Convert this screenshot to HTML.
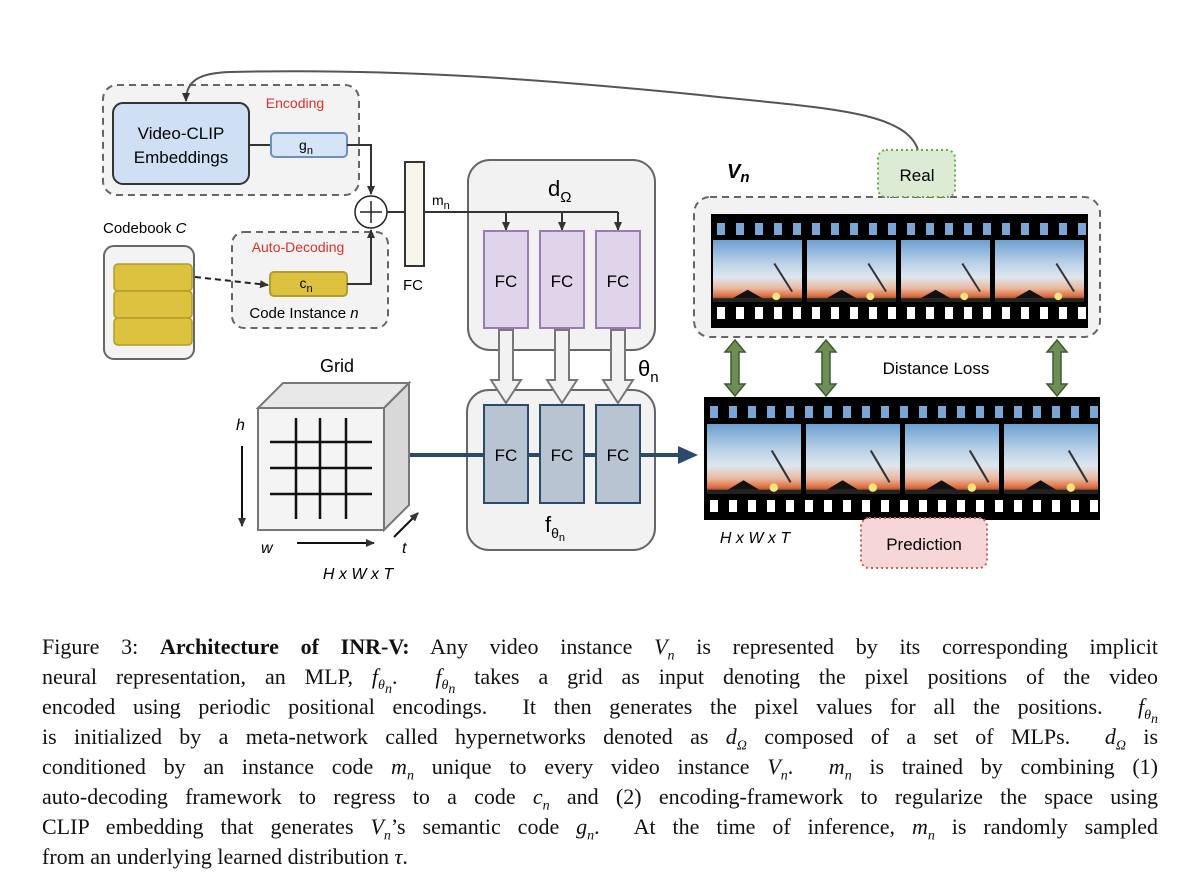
<!DOCTYPE html>
<html><head><meta charset="utf-8"><style>
body{margin:0;width:1200px;height:896px;background:#fff;overflow:hidden;position:relative}
svg{position:absolute;left:0;top:0}
.cap{position:absolute;left:42px;width:1116px;font-family:"Liberation Serif",serif;font-size:22px;line-height:30px;color:#111}
.cap div{text-align:justify;text-align-last:justify;white-space:nowrap;height:30px}
.cap div.last{text-align-last:left}
i sub{font-size:14px;line-height:0}
</style></head><body>
<svg width="1200" height="896" viewBox="0 0 1200 896" font-family="Liberation Sans, sans-serif">
<defs>
<marker id="ah" markerWidth="10" markerHeight="10" refX="8" refY="5" orient="auto" markerUnits="userSpaceOnUse"><path d="M0,1 L9,5 L0,9 z" fill="#333"/></marker>
<marker id="ahb" markerWidth="22" markerHeight="22" refX="2" refY="11" orient="auto" markerUnits="userSpaceOnUse"><path d="M0,2 L20,11 L0,20 z" fill="#2c4a6b"/></marker>
<linearGradient id="sky" x1="0" y1="0" x2="0" y2="1">
<stop offset="0" stop-color="#6d9fd0"/><stop offset="0.35" stop-color="#b6cfe6"/><stop offset="0.6" stop-color="#dfe6ee"/><stop offset="0.78" stop-color="#e9b9a0"/><stop offset="0.9" stop-color="#e07040"/><stop offset="1" stop-color="#3b2a2a"/></linearGradient>
<pattern id="hT1" x="711" y="214" width="19" height="28" patternUnits="userSpaceOnUse"><rect x="6" y="9" width="8" height="12" fill="#7aa6d6"/></pattern>
<pattern id="hB1" x="711" y="302" width="19" height="26" patternUnits="userSpaceOnUse"><rect x="6" y="5" width="8" height="12" fill="#fff"/></pattern>
<pattern id="hT2" x="704" y="397" width="19" height="28" patternUnits="userSpaceOnUse"><rect x="6" y="9" width="8" height="12" fill="#7aa6d6"/></pattern>
<pattern id="hB2" x="704" y="494" width="19" height="26" patternUnits="userSpaceOnUse"><rect x="6" y="6" width="8" height="12" fill="#fff"/></pattern>
<symbol id="frame" viewBox="0 0 90 66" width="90" height="66" preserveAspectRatio="none">
<rect width="90" height="66" fill="url(#sky)"/>
<path d="M20,62 L35,53 L50,62 z" fill="#111"/>
<rect x="0" y="62" width="90" height="4" fill="#222"/>
<circle cx="64" cy="60" r="4" fill="#ffe27a"/>
<path d="M62,25 L80,55" stroke="#333" stroke-width="2" fill="none"/>
</symbol>
</defs>

<rect x="103" y="85" width="256" height="110" rx="14" fill="#f3f3f3" stroke="#666" stroke-width="2" stroke-dasharray="7,5"/>
<text x="295" y="108" font-size="14" fill="#e03030" text-anchor="middle">Encoding</text>
<rect x="113" y="103" width="136" height="81" rx="10" fill="#cfe0f5" stroke="#333" stroke-width="2"/>
<text x="181" y="139" font-size="17" text-anchor="middle">Video-CLIP</text>
<text x="181" y="163" font-size="17" text-anchor="middle">Embeddings</text>
<line x1="249" y1="145" x2="271" y2="145" stroke="#333" stroke-width="2"/>
<rect x="271" y="133" width="76" height="24" rx="4" fill="#d5e4f6" stroke="#6d8fc0" stroke-width="2"/>
<text x="306" y="150" font-size="14" text-anchor="middle">g<tspan font-size="11" dy="4">n</tspan></text>
<path d="M347,145 L371,145 L371,194" fill="none" stroke="#333" stroke-width="2" marker-end="url(#ah)"/>

<path d="M918,150 C905,110 820,108 700,95 C550,80 400,68 230,72 C200,73 186,80 186,101" fill="none" stroke="#555" stroke-width="2" marker-end="url(#ah)"/>

<circle cx="371" cy="212" r="16" fill="#fff" stroke="#222" stroke-width="1.5"/>
<path d="M360,212 H382 M371,201 V223" stroke="#222" stroke-width="1.5"/>

<text x="103" y="233" font-size="15">Codebook <tspan font-style="italic">C</tspan></text>
<rect x="104" y="246" width="90" height="113" rx="10" fill="#f3f3f3" stroke="#666" stroke-width="2"/>
<rect x="114" y="264" width="78" height="27" rx="4" fill="#dcc23f" stroke="#b39c28" stroke-width="1.5"/>
<rect x="114" y="291" width="78" height="27" rx="4" fill="#dcc23f" stroke="#b39c28" stroke-width="1.5"/>
<rect x="114" y="318" width="78" height="27" rx="4" fill="#dcc23f" stroke="#b39c28" stroke-width="1.5"/>

<rect x="232" y="232" width="156" height="96" rx="12" fill="#f3f3f3" stroke="#666" stroke-width="2" stroke-dasharray="7,5"/>
<text x="298" y="252" font-size="14" fill="#e03030" text-anchor="middle">Auto-Decoding</text>
<path d="M195,277 L268,285" fill="none" stroke="#222" stroke-width="2" stroke-dasharray="6,4" marker-end="url(#ah)"/>
<rect x="270" y="272" width="77" height="24" rx="4" fill="#dcc23f" stroke="#b39c28" stroke-width="2"/>
<text x="306" y="288" font-size="14" text-anchor="middle">c<tspan font-size="11" dy="4">n</tspan></text>
<text x="304" y="318" font-size="15" text-anchor="middle">Code Instance <tspan font-style="italic">n</tspan></text>
<path d="M347,284 L371,284 L371,230" fill="none" stroke="#333" stroke-width="2" marker-end="url(#ah)"/>

<line x1="387" y1="212" x2="405" y2="212" stroke="#333" stroke-width="2"/>
<rect x="405" y="162" width="19" height="104" fill="#f8f6ea" stroke="#333" stroke-width="2"/>
<text x="413" y="290" font-size="15" text-anchor="middle">FC</text>
<text x="432" y="205" font-size="14">m<tspan font-size="11" dy="4">n</tspan></text>

<rect x="468" y="160" width="187" height="190" rx="22" fill="#f2f2f2" stroke="#666" stroke-width="2"/>
<text x="548" y="196" font-size="22">d<tspan font-size="15" dy="6">Ω</tspan></text>
<path d="M424,212 H618" stroke="#333" stroke-width="2" fill="none"/>
<line x1="506" y1="212" x2="506" y2="230" stroke="#333" stroke-width="2" marker-end="url(#ah)"/>
<line x1="562" y1="212" x2="562" y2="230" stroke="#333" stroke-width="2" marker-end="url(#ah)"/>
<line x1="618" y1="212" x2="618" y2="230" stroke="#333" stroke-width="2" marker-end="url(#ah)"/>
<g fill="#e0d4ea" stroke="#9b7bb0" stroke-width="2">
<rect x="484" y="231" width="44" height="97"/><rect x="540" y="231" width="44" height="97"/><rect x="596" y="231" width="44" height="97"/></g>
<g font-size="17" text-anchor="middle"><text x="506" y="287">FC</text><text x="562" y="287">FC</text><text x="618" y="287">FC</text></g>

<rect x="467" y="390" width="188" height="160" rx="22" fill="#f2f2f2" stroke="#666" stroke-width="2"/>
<g fill="#f2f2f2" stroke="#777" stroke-width="2">
<path d="M499,330 H513 V380 H521 L506,403 L491,380 H499 z"/>
<path d="M555,330 H569 V380 H577 L562,403 L547,380 H555 z"/>
<path d="M611,330 H625 V380 H633 L618,403 L603,380 H611 z"/></g>
<text x="638" y="376" font-size="22">θ<tspan font-size="15" dy="6">n</tspan></text>

<line x1="407" y1="455" x2="680" y2="455" stroke="#2c4a6b" stroke-width="4" marker-end="url(#ahb)"/>
<g fill="#b8c4d2" stroke="#2f4a68" stroke-width="2">
<rect x="484" y="405" width="44" height="98"/><rect x="540" y="405" width="44" height="98"/><rect x="596" y="405" width="44" height="98"/></g>
<g font-size="17" text-anchor="middle"><text x="506" y="461">FC</text><text x="562" y="461">FC</text><text x="618" y="461">FC</text></g>
<text x="545" y="532" font-size="22">f<tspan font-size="14" dy="6">θ</tspan><tspan font-size="11" dy="3">n</tspan></text>

<text x="337" y="372" font-size="18" text-anchor="middle">Grid</text>
<path d="M258,408 L283,383 L409,383 L384,408 z" fill="#e8e8e8" stroke="#777" stroke-width="2"/>
<path d="M384,408 L409,383 L409,505 L384,530 z" fill="#d8d8d8" stroke="#777" stroke-width="2"/>
<rect x="258" y="408" width="126" height="122" fill="#f4f4f4" stroke="#777" stroke-width="2"/>
<path d="M296,418 V519 M320,418 V519 M346,418 V519 M270,442 H372 M270,468 H372 M270,494 H372" stroke="#111" stroke-width="2.5"/>
<text x="236" y="430" font-size="16" font-style="italic">h</text>
<line x1="242" y1="446" x2="242" y2="526" stroke="#111" stroke-width="2" marker-end="url(#ah)"/>
<text x="261" y="553" font-size="16" font-style="italic">w</text>
<line x1="297" y1="543" x2="374" y2="543" stroke="#111" stroke-width="2" marker-end="url(#ah)"/>
<line x1="394" y1="537" x2="418" y2="513" stroke="#111" stroke-width="2" marker-end="url(#ah)"/>
<text x="402" y="553" font-size="16" font-style="italic">t</text>
<text x="358" y="579" font-size="16" font-style="italic" text-anchor="middle">H x W x T</text>

<text x="727" y="178" font-size="20" font-weight="bold" font-style="italic">V<tspan font-size="15" dy="4">n</tspan></text>
<rect x="694" y="197" width="406" height="140" rx="16" fill="#f2f2f2" stroke="#666" stroke-width="2" stroke-dasharray="7,5"/>
<rect x="878" y="150" width="77" height="47" rx="8" fill="#dcecd4" stroke="#6aa84f" stroke-width="2" stroke-dasharray="2,3"/>
<text x="917" y="181" font-size="17" text-anchor="middle">Real</text>

<rect x="711" y="214" width="377" height="114" fill="#000"/>
<rect x="711" y="214" width="377" height="28" fill="url(#hT1)"/>
<rect x="711" y="302" width="377" height="26" fill="url(#hB1)"/>
<use href="#frame" x="713" y="240" width="89" height="62"/>
<use href="#frame" x="807" y="240" width="89" height="62"/>
<use href="#frame" x="901" y="240" width="89" height="62"/>
<use href="#frame" x="995" y="240" width="89" height="62"/>

<g fill="#6d8f55" stroke="#3f5a2e" stroke-width="1.5">
<path d="M735,340 L745,352 H739 V384 H745 L735,396 L725,384 H731 V352 H725 z"/>
<path d="M826,340 L836,352 H830 V384 H836 L826,396 L816,384 H822 V352 H816 z"/>
<path d="M1057,340 L1067,352 H1061 V384 H1067 L1057,396 L1047,384 H1053 V352 H1047 z"/></g>
<text x="936" y="374" font-size="17" text-anchor="middle">Distance Loss</text>

<rect x="704" y="397" width="396" height="123" fill="#000"/>
<rect x="704" y="397" width="396" height="28" fill="url(#hT2)"/>
<rect x="704" y="494" width="396" height="26" fill="url(#hB2)"/>
<use href="#frame" x="707" y="424" width="94" height="70"/>
<use href="#frame" x="806" y="424" width="94" height="70"/>
<use href="#frame" x="905" y="424" width="94" height="70"/>
<use href="#frame" x="1004" y="424" width="94" height="70"/>
<text x="755" y="543" font-size="16" font-style="italic" text-anchor="middle">H x W x T</text>

<rect x="861" y="518" width="126" height="50" rx="8" fill="#f6d6d6" stroke="#c46060" stroke-width="2" stroke-dasharray="2,3"/>
<text x="924" y="550" font-size="17" text-anchor="middle">Prediction</text>
</svg>

<div class="cap" style="top:632px">
<div>Figure 3: <b>Architecture of INR-V:</b> Any video instance <i>V<sub>n</sub></i> is represented by its corresponding implicit</div>
<div>neural representation, an MLP, <i>f<sub>θ<sub>n</sub></sub></i>. &nbsp;<i>f<sub>θ<sub>n</sub></sub></i> takes a grid as input denoting the pixel positions of the video</div>
<div>encoded using periodic positional encodings. &nbsp;It then generates the pixel values for all the positions. &nbsp;<i>f<sub>θ<sub>n</sub></sub></i></div>
<div>is initialized by a meta-network called hypernetworks denoted as <i>d<sub>Ω</sub></i> composed of a set of MLPs. &nbsp;<i>d<sub>Ω</sub></i> is</div>
<div>conditioned by an instance code <i>m<sub>n</sub></i> unique to every video instance <i>V<sub>n</sub></i>. &nbsp;<i>m<sub>n</sub></i> is trained by combining (1)</div>
<div>auto-decoding framework to regress to a code <i>c<sub>n</sub></i> and (2) encoding-framework to regularize the space using</div>
<div>CLIP embedding that generates <i>V<sub>n</sub></i>’s semantic code <i>g<sub>n</sub></i>. &nbsp;At the time of inference, <i>m<sub>n</sub></i> is randomly sampled</div>
<div class="last">from an underlying learned distribution <i>τ</i>.</div>
</div>
</body></html>
